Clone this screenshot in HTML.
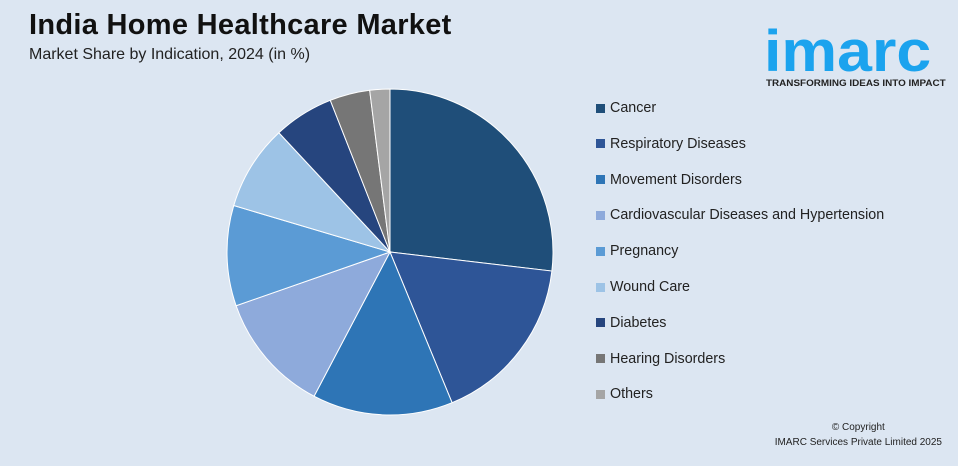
<!DOCTYPE html>
<html><head><meta charset="utf-8"><style>
body{margin:0;width:958px;height:466px;overflow:hidden;background:#dce6f2;font-family:"Liberation Sans",sans-serif;}
.wrap{position:relative;width:958px;height:466px;background:#dce6f2;}
h1{position:absolute;left:29px;top:9px;margin:0;font-size:29px;font-weight:bold;color:#111;letter-spacing:0.3px;}
.sub{position:absolute;left:29px;top:46px;font-size:16px;color:#222;}
.leg{position:absolute;left:596px;font-size:14.3px;color:#222;display:flex;align-items:center;}
.leg span.sw{width:9px;height:9px;margin-right:5px;display:inline-block;}
.logo{position:absolute;left:764px;top:23px;font-size:58px;font-weight:bold;color:#1ba3ee;letter-spacing:0px;line-height:1;transform:scaleX(1.08);transform-origin:left;}
.tag{position:absolute;left:766px;top:78px;font-size:9.5px;font-weight:bold;color:#222;transform:scaleX(1.04);transform-origin:left;}
.copy{position:absolute;right:16px;top:420px;font-size:10px;color:#222;text-align:center;line-height:15px;}
</style></head><body>
<div class="wrap">
<h1>India Home Healthcare Market</h1>
<div class="sub">Market Share by Indication, 2024 (in %)</div>
<div class="logo">imarc</div>
<div class="tag">TRANSFORMING IDEAS INTO IMPACT</div>
<svg id="pie" width="958" height="466" style="position:absolute;left:0;top:0"></svg>
<div id="legend"></div>
<div class="copy">© Copyright<br>IMARC Services Private Limited 2025</div>
</div>
<script>
const categories=["Cancer","Respiratory Diseases","Movement Disorders","Cardiovascular Diseases and Hypertension","Pregnancy","Wound Care","Diabetes","Hearing Disorders","Others"];
const values=[27,17,14,12,10,8.5,6,4,2];
const colors=["#1f4e79","#2e5597","#2e75b6","#8eaadb","#5b9bd5","#9dc3e6","#26457e","#767676","#a5a5a5"];
const svg=document.getElementById('pie');
const cx=390,cy=252,r=163;
const total=values.reduce((a,b)=>a+b,0);
let a0=0;
values.forEach((v,i)=>{
  const a1=a0+v/total*2*Math.PI;
  const x0=cx+r*Math.sin(a0),y0=cy-r*Math.cos(a0),x1=cx+r*Math.sin(a1),y1=cy-r*Math.cos(a1);
  const large=(a1-a0)>Math.PI?1:0;
  const p=document.createElementNS('http://www.w3.org/2000/svg','path');
  p.setAttribute('d',`M${cx},${cy}L${x0},${y0}A${r},${r} 0 ${large} 1 ${x1},${y1}Z`);
  p.setAttribute('fill',colors[i]);
  p.setAttribute('stroke','#ffffff');p.setAttribute('stroke-width','1');
  
  
  svg.appendChild(p);
  a0=a1;
});
const leg=document.getElementById('legend');
categories.forEach((c,i)=>{
  const d=document.createElement('div');
  d.className='leg';d.style.top=(100+i*35.8)+'px';
  
  
  d.innerHTML=`<span class="sw" style="background:${colors[i]}"></span>${c}`;
  leg.appendChild(d);
});
</script>
</body></html>
